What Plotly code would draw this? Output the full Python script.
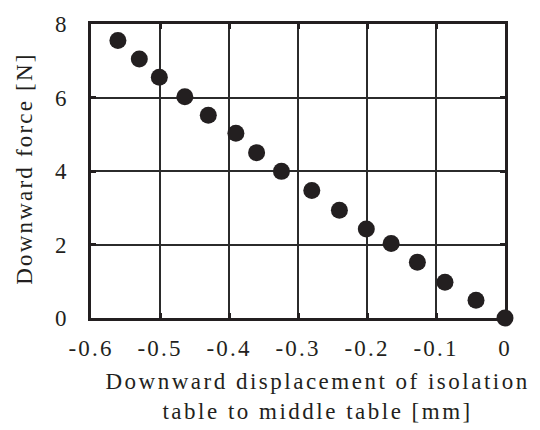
import plotly.graph_objects as go

displacement_mm = [-0.561, -0.530, -0.501, -0.464, -0.430, -0.390, -0.360, -0.324,
                   -0.280, -0.240, -0.201, -0.165, -0.127, -0.087, -0.042, 0.0]
force_N = [7.55, 7.05, 6.55, 6.02, 5.52, 5.03, 4.50, 3.99,
           3.47, 2.93, 2.42, 2.03, 1.52, 0.97, 0.48, 0.0]

x_ticks = [-0.6, -0.5, -0.4, -0.3, -0.2, -0.1, 0]
x_tick_labels = ["-0.6", "-0.5", "-0.4", "-0.3", "-0.2", "-0.1", "0"]
y_ticks = [0, 2, 4, 6, 8]
y_tick_labels = ["0", "2", "4", "6", "8"]

ink = "#231f20"
font_family = "Liberation Serif, Times New Roman, serif"

L, R, T, B = 91, 505, 16, 318
W, H = 540, 430

fig = go.Figure()
fig.add_trace(go.Scatter(
    x=displacement_mm, y=force_N, mode="markers",
    marker=dict(size=17, color=ink, line=dict(width=0)),
    cliponaxis=False, showlegend=False,
))

axis_common = dict(
    showgrid=True, gridcolor="#2b2b2b", gridwidth=1.5,
    showline=True, linecolor=ink, linewidth=3, mirror="ticks",
    ticks="inside", ticklen=5, tickwidth=2.5, tickcolor=ink,
    zeroline=False,
    tickfont=dict(family=font_family, size=23, color=ink),
)

fig.update_layout(
    width=W, height=H,
    margin=dict(l=L, r=W - R, t=T, b=H - B),
    paper_bgcolor="white", plot_bgcolor="white",
    xaxis=dict(range=[-0.6, 0], tickvals=x_ticks, ticktext=x_tick_labels, ticklabelstandoff=7, **axis_common),
    yaxis=dict(range=[0, 8], tickvals=y_ticks, ticktext=y_tick_labels, ticklabelstandoff=17, **axis_common),
    annotations=[
        dict(text="Downward displacement of isolation<br>table to middle table [mm]",
             xref="paper", yref="paper", x=(318 - L) / (R - L), y=-(399 - B) / (B - T),
             xanchor="center", yanchor="middle", showarrow=False,
             font=dict(family=font_family, size=23, color=ink), name="xtitle"),
        dict(text="Downward force [N]", textangle=-90,
             xref="paper", yref="paper", x=-(L - 24) / (R - L), y=(B - 165) / (B - T),
             xanchor="center", yanchor="middle", showarrow=False,
             font=dict(family=font_family, size=23, color=ink), name="ytitle"),
    ],
)

post = """
var gd = document.getElementById('{plot_id}');
function spaceText(){
  var anns = gd.querySelectorAll('.annotation-text');
  if (anns.length > 0) { anns[0].style.letterSpacing = '2.5px'; }
  if (anns.length > 1) { anns[1].style.letterSpacing = '2.2px'; }
  gd.querySelectorAll('.xtick text').forEach(function(e){ e.style.letterSpacing = '2.2px'; });
}
spaceText();
"""

fig.write_html("out.html", post_script=post)
